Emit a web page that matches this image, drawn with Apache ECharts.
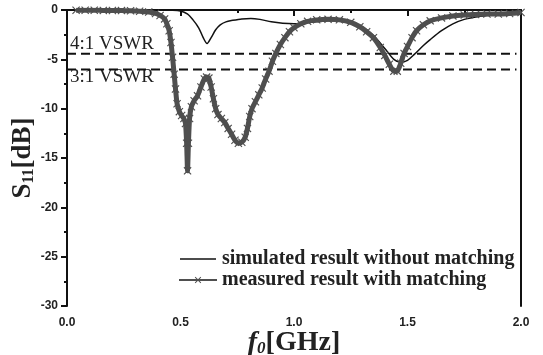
<!DOCTYPE html>
<html>
<head>
<meta charset="utf-8">
<script src="https://cdn.jsdelivr.net/npm/echarts@6/dist/echarts.min.js"></script>
<style>
  html, body { margin: 0; padding: 0; background: #fff; }
  #main { width: 543px; height: 355px; }
</style>
</head>
<body>
<div id="main"></div>
<script>
// frequency (GHz) / S11 (dB)
var simFreq = [0, 0.1, 0.2, 0.3, 0.4, 0.46, 0.5, 0.53, 0.555, 0.58, 0.6, 0.617, 0.635, 0.655, 0.675, 0.7, 0.73, 0.77, 0.81, 0.85, 0.9, 0.95, 1.0, 1.05, 1.1, 1.15, 1.2, 1.25, 1.3, 1.35, 1.4, 1.44, 1.47, 1.5, 1.53, 1.57, 1.6, 1.65, 1.7, 1.75, 1.8, 1.85, 1.9, 1.95, 2.0];
var simS11 = [0, 0, 0, 0, 0, -0.02, -0.1, -0.4, -1.0, -1.8, -2.8, -3.4, -2.8, -2.0, -1.5, -1.2, -1.05, -0.9, -0.85, -0.95, -1.2, -1.35, -1.4, -1.3, -1.2, -1.1, -1.1, -1.3, -1.7, -2.6, -3.9, -5.0, -5.3, -5.1, -4.5, -3.6, -3.0, -2.1, -1.4, -0.95, -0.7, -0.55, -0.45, -0.35, -0.3];

var measFreq = [0.04, 0.08, 0.12, 0.16, 0.2, 0.24, 0.28, 0.32, 0.36, 0.39, 0.41, 0.43, 0.44, 0.45, 0.458, 0.465, 0.472, 0.478, 0.485, 0.495, 0.505, 0.515, 0.522, 0.527, 0.531, 0.535, 0.54, 0.548, 0.56, 0.575, 0.59, 0.605, 0.615, 0.625, 0.635, 0.645, 0.655, 0.665, 0.68, 0.695, 0.71, 0.725, 0.74, 0.755, 0.77, 0.785, 0.795, 0.805, 0.815, 0.83, 0.845, 0.86, 0.875, 0.89, 0.905, 0.92, 0.94, 0.96, 0.98, 1.0, 1.03, 1.06, 1.1, 1.15, 1.2, 1.25, 1.29, 1.32, 1.35, 1.38, 1.4, 1.42, 1.44, 1.455, 1.47, 1.485, 1.5, 1.52, 1.54, 1.57, 1.6, 1.65, 1.7, 1.75, 1.8, 1.85, 1.9, 1.95, 2.0];
var measS11 = [-0.02, -0.03, -0.03, -0.04, -0.05, -0.06, -0.08, -0.12, -0.2, -0.35, -0.55, -0.9, -1.4, -2.1, -3.3, -4.8, -6.5, -8.0, -9.5, -10.3, -10.7, -11.0, -11.5, -13.5, -16.3, -13.5, -11.0, -9.8, -9.2, -8.7, -7.8, -7.0, -6.8, -6.9, -7.8, -9.0, -10.0, -10.6, -11.0, -11.4, -12.0, -12.6, -13.2, -13.5, -13.4, -12.9, -12.0, -10.8, -10.0, -9.3, -8.6, -7.9, -7.0, -6.2, -5.2, -4.4, -3.5, -2.8, -2.2, -1.8, -1.4, -1.15, -1.0, -0.95, -1.0, -1.25, -1.7, -2.2, -2.8, -3.8, -4.6, -5.5, -6.2, -6.2, -5.4, -4.4, -3.7, -2.8, -2.1, -1.5, -1.1, -0.8, -0.6, -0.5, -0.45, -0.4, -0.4, -0.35, -0.25];

// VSWR reference levels
var vswrX = [0, 1.98];
var vswr4 = -4.44;
var vswr3 = -6.02;

var xTicks = ['0.0', '0.5', '1.0', '1.5', '2.0'];

function pairs(xs, ys) {
    return xs.map(function (x, i) { return [x, ys[i]]; });
}

var cross = 'path://M0,1L1,0L5,4L9,0L10,1L6,5L10,9L9,10L5,6L1,10L0,9L4,5Z';
// plain line for the legend, padded with move-to points so it stays thin
var lineIcon = 'path://M0,0M0,3.2L36,3.2L36,4.8L0,4.8ZM36,8';
var serif = 'Liberation Serif';

var chart = echarts.init(document.getElementById('main'));
chart.setOption({
    animation: false,
    backgroundColor: '#fff',
    grid: { left: 67, right: 22, top: 10, bottom: 49, outerBoundsMode: 'none' },
    legend: {
        orient: 'vertical',
        left: 173,
        top: 244,
        itemWidth: 38,
        itemHeight: 8,
        itemGap: 1,
        data: [
            { name: 'simulated result without matching', icon: lineIcon },
            { name: 'measured result with matching' }
        ],
        textStyle: { fontFamily: serif, fontWeight: 'bold', fontSize: 20, color: '#222' }
    },
    xAxis: [{
        type: 'value',
        min: 0, max: 2, interval: 0.5,
        name: '{i|f}{sub|0}{s|[GHz]}',
        nameLocation: 'middle',
        nameGap: 22,
        nameMoveOverlap: false,
        nameTextStyle: {
            rich: {
                i: { fontFamily: serif, fontStyle: 'italic', fontWeight: 'bold', fontSize: 28, color: '#222' },
                sub: { fontFamily: serif, fontStyle: 'italic', fontWeight: 'bold', fontSize: 17, color: '#222', padding: [12, 0, 0, 0] },
                s: { fontFamily: serif, fontWeight: 'bold', fontSize: 28, color: '#222' }
            }
        },
        axisLine: { lineStyle: { color: '#111', width: 2 } },
        axisTick: { length: 6, lineStyle: { width: 2, color: '#111' } },
        minorTick: { show: true, splitNumber: 2, length: 3, lineStyle: { width: 2, color: '#111' } },
        splitLine: { show: false },
        axisLabel: {
            margin: 11,
            fontFamily: 'Liberation Sans', fontWeight: 'bold', fontSize: 12, color: '#222',
            formatter: function (v) { return xTicks[Math.round(v / 0.5)]; }
        }
    }, {
        type: 'value', position: 'top', min: 0, max: 2,
        axisLine: { show: true, onZero: false, lineStyle: { color: '#111', width: 2 } },
        axisTick: { show: false }, axisLabel: { show: false }, splitLine: { show: false }
    }],
    yAxis: [{
        type: 'value',
        min: -30, max: 0, interval: 5,
        name: '{s|S}{sub|11}{s|[dB]}',
        nameLocation: 'middle',
        nameRotate: 90,
        nameGap: 30,
        nameMoveOverlap: false,
        nameTextStyle: {
            rich: {
                s: { fontFamily: serif, fontWeight: 'bold', fontSize: 27, color: '#222' },
                sub: { fontFamily: serif, fontWeight: 'bold', fontSize: 16, color: '#222', padding: [11, 0, 0, 0] }
            }
        },
        axisLine: { show: true, onZero: false, lineStyle: { color: '#111', width: 2 } },
        axisTick: { show: true, length: 6, lineStyle: { width: 2, color: '#111' } },
        minorTick: { show: true, splitNumber: 2, length: 3, lineStyle: { width: 2, color: '#111' } },
        splitLine: { show: false },
        axisLabel: { margin: 9, fontFamily: 'Liberation Sans', fontWeight: 'bold', fontSize: 12, color: '#222' }
    }, {
        type: 'value', position: 'right', min: -30, max: 0,
        axisLine: { show: true, onZero: false, lineStyle: { color: '#111', width: 2 } },
        axisTick: { show: false }, axisLabel: { show: false }, splitLine: { show: false }
    }],
    graphic: [
        { type: 'text', left: 70, top: 35, style: { text: '4:1 VSWR', fontFamily: serif, fontSize: 19, fill: '#222' } },
        { type: 'text', left: 70, top: 68, style: { text: '3:1 VSWR', fontFamily: serif, fontSize: 19, fill: '#222' } }
    ],
    series: [{
        name: 'vswr4',
        type: 'line',
        data: pairs(vswrX, [vswr4, vswr4]),
        symbol: 'none',
        lineStyle: { color: '#111', width: 2, type: [9, 5] },
        silent: true
    }, {
        name: 'vswr3',
        type: 'line',
        data: pairs(vswrX, [vswr3, vswr3]),
        symbol: 'none',
        lineStyle: { color: '#111', width: 2, type: [9, 5] },
        silent: true
    }, {
        name: 'simulated result without matching',
        type: 'line',
        data: pairs(simFreq, simS11),
        smooth: 0.3,
        symbol: 'none',
        itemStyle: { color: '#111' },
        lineStyle: { color: '#111', width: 1.5 },
        z: 3
    }, {
        name: 'measured result with matching',
        type: 'line',
        data: pairs(measFreq, measS11),
        smooth: 0.2,
        showAllSymbol: true,
        symbol: cross,
        symbolSize: 8,
        itemStyle: { color: '#4f4f4f' },
        lineStyle: { color: '#4f4f4f', width: 5 },
        z: 4
    }]
});
</script>
</body>
</html>
